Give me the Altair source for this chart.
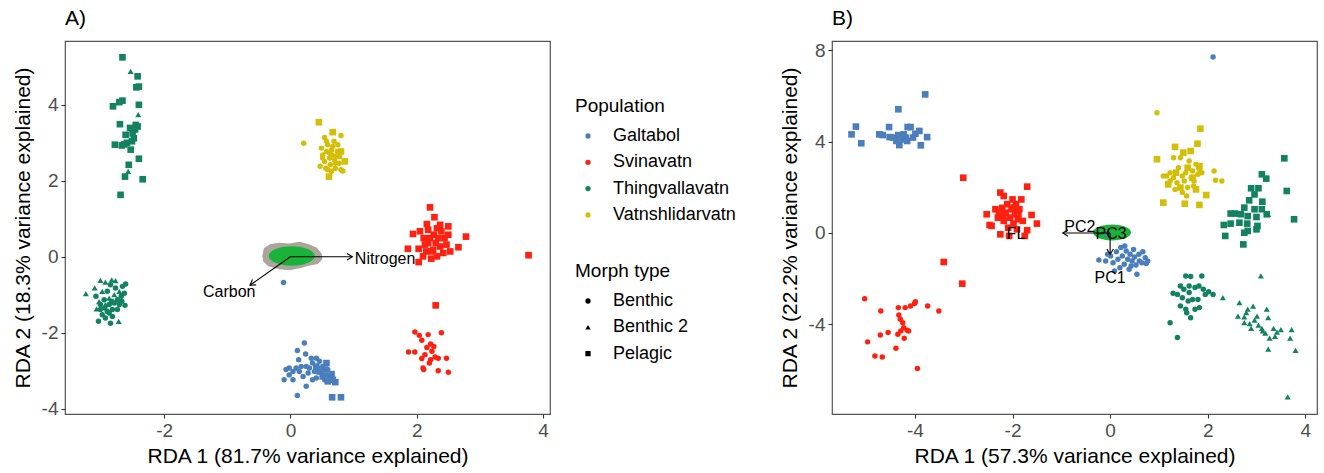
import math
import altair as alt
import pandas as pd

# ---------------- Panel A data (RDA 1 / RDA 2) ----------------
# Thingvallavatn, upper cluster
A_thing_up_sq_x = [-2.66, -2.42, -2.44, -2.40, -2.40, -2.71, -2.66, -2.81, -2.70, -2.54, -2.45, -2.42, -2.61, -2.48,
                   -2.51, -2.78, -2.67, -2.63, -2.53, -2.40, -2.56, -2.62, -2.34, -2.69, -2.46, -2.50, -2.59]
A_thing_up_sq_y = [5.25, 4.75, 4.46, 4.48, 4.00, 4.07, 4.11, 3.96, 3.49, 3.39, 3.47, 3.43, 3.21, 3.12,
                   3.04, 2.95, 2.93, 2.96, 2.82, 2.58, 2.42, 2.11, 2.04, 1.63, 3.35, 3.25, 3.00]
A_thing_up_tri_x = [-2.53, -2.41, -2.57]
A_thing_up_tri_y = [4.88, 3.74, 2.25]
# Thingvallavatn, lower-left cluster
A_thing_lo_tri_x = [-3.24, -3.10, -3.01, -2.93, -2.83, -2.77, -3.03, -2.93, -2.79, -2.72, -3.07, -2.98, -2.87, -2.71]
A_thing_lo_tri_y = [-0.97, -0.82, -0.62, -0.67, -0.61, -0.63, -1.18, -1.26, -1.00, -1.70, -1.37, -0.91, -1.09, -0.91]
A_thing_lo_cir_x = [-3.04, -2.85, -2.98, -2.90, -2.82, -3.01, -2.95, -2.87, -2.79, -2.74, -2.68, -2.63, -2.61, -2.66,
                    -2.71, -2.62, -2.93, -2.82, -3.08, -2.90, -2.77, -2.85, -3.01, -2.87, -2.74, -2.94, -2.83, -2.67]
A_thing_lo_cir_y = [-1.70, -1.75, -1.53, -1.44, -1.39, -1.26, -1.13, -1.26, -1.22, -1.13, -1.04, -0.96, -0.72, -0.78,
                    -1.26, -1.28, -1.61, -1.57, -1.04, -0.91, -0.82, -0.74, -1.39, -1.48, -1.39, -1.35, -1.17, -1.17]
# Vatnshlidarvatn
A_vatn_sq_x = [0.45, 0.67, 0.61, 0.80, 0.86]
A_vatn_sq_y = [3.54, 3.28, 2.11, 2.77, 2.51]
A_vatn_cir_x = [0.21, 0.54, 0.80, 0.49, 0.51, 0.54, 0.57, 0.59, 0.62, 0.63, 0.65, 0.66, 0.69, 0.70, 0.71, 0.74,
                0.75, 0.77, 0.78, 0.80, 0.83, 0.47, 0.56, 0.51, 0.59, 0.65, 0.72, 0.57, 0.67, 0.62, 0.71]
A_vatn_cir_y = [2.99, 3.14, 3.19, 2.86, 2.68, 2.51, 2.77, 2.95, 2.60, 2.42, 2.81, 2.68, 3.04, 2.55, 2.33, 2.77,
                2.95, 2.46, 2.64, 2.29, 2.26, 2.38, 2.33, 2.60, 2.29, 2.25, 2.64, 3.04, 2.90, 2.72, 2.46]
# Svinavatn
A_svin_sq_x = [2.21, 2.28, 1.94, 1.86, 2.03, 2.03, 2.78, 2.66, 2.53, 2.50, 2.16, 2.05, 2.11, 2.13, 2.18, 2.21,
               2.23, 2.23, 2.27, 2.30, 2.32, 2.34, 2.37, 2.39, 2.42, 2.44, 2.47, 2.50, 2.15, 2.10, 2.37, 2.26,
               2.18, 2.32, 3.77, 2.30]
A_svin_sq_y = [1.30, 1.04, 0.60, 0.21, 0.21, -0.14, 0.53, 0.25, 0.14, 0.80, 0.86, 0.67, 0.49, 0.32, 0.71, 0.49,
               0.14, -0.05, 0.58, 0.36, 0.75, 0.49, 0.27, 0.67, 0.10, 0.49, 0.32, 0.58, 0.14, 0.01, 0.84, 0.18,
               0.36, 0.01, 0.04, -1.28]
A_svin_cir_x = [1.97, 2.04, 2.18, 2.39, 2.08, 2.22, 2.16, 1.87, 1.97, 2.24, 2.13, 2.29, 2.08, 2.22, 2.34, 2.47,
                2.11, 2.34, 2.50, 2.20, 2.10, 2.27]
A_svin_cir_y = [-1.98, -2.07, -2.05, -2.00, -2.20, -2.30, -2.39, -2.51, -2.51, -2.49, -2.58, -2.64, -2.68, -2.71,
                -2.67, -2.67, -2.97, -3.00, -3.04, -2.80, -2.93, -2.36]
# Galtabol
A_galt_cir_x = [0.22, 0.11, 0.24, 0.13, 0.33, -0.07, -0.02, 0.04, 0.09, 0.14, 0.20, 0.25, 0.28, 0.35, 0.38, 0.41,
                0.43, 0.46, 0.49, 0.51, 0.54, 0.57, 0.59, 0.25, 0.11, -0.10, 0.04, 0.17, 0.30, 0.35, -0.02, 0.41,
                -0.11]
A_galt_cir_y = [-2.27, -2.47, -2.56, -2.71, -2.67, -2.97, -3.11, -3.24, -2.93, -3.02, -3.15, -2.89, -3.06, -2.80,
                -3.02, -3.19, -2.93, -2.75, -3.06, -2.89, -3.24, -3.11, -2.97, -3.41, -3.65, -3.24, -3.02, -2.89,
                -2.93, -3.24, -2.93, -2.67, -0.68]
A_galt_sq_x = [0.46, 0.51, 0.57, 0.62, 0.67, 0.71, 0.59, 0.65, 0.41, 0.54, 0.66, 0.80]
A_galt_sq_y = [-3.02, -3.15, -2.80, -3.19, -3.24, -3.30, -3.28, -3.09, -2.89, -2.97, -3.70, -3.70]

# ---------------- Panel B data ----------------
B_galt_sq_x = [-5.30, -5.21, -5.10, -4.73, -4.53, -4.52, -4.34, -4.34, -4.38, -4.32, -4.25, -4.19, -4.16, -4.15,
               -4.09, -4.04, -3.99, -3.91, -3.88, -3.75, -3.79, -4.45, -4.23, -4.66]
B_galt_sq_y = [4.32, 4.66, 3.93, 4.32, 4.64, 4.20, 5.42, 4.29, 4.03, 3.85, 4.10, 4.18, 4.03, 4.64,
               4.64, 4.18, 4.35, 4.47, 3.84, 4.20, 6.07, 4.18, 4.32, 4.29]
B_galt_cir_x = [-0.23, -0.09, 0.01, 0.06, 0.13, 0.16, 0.22, 0.25, 0.29, 0.33, 0.36, 0.39, 0.41, 0.45, 0.48, 0.50,
                0.53, 0.55, 0.59, 0.60, 0.65, 0.67, 0.72, 0.74, 0.77, 0.09, 0.20, -0.05, 0.30, 0.43, -0.06, 2.11]
B_galt_cir_y = [-1.18, -1.23, -1.01, -1.30, -0.82, -1.15, -0.64, -1.01, -1.37, -0.79, -1.15, -1.59, -0.93, -1.23,
                -0.72, -1.05, -1.40, -1.81, -0.93, -1.23, -1.30, -0.82, -1.08, -1.34, -1.23, -1.66, -1.52, -0.93,
                -0.57, -1.45, -0.06, 7.71]
B_svin_sq_x = [-3.01, -1.70, -2.25, -2.18, -2.53, -2.47, -2.43, -2.35, -2.30, -2.25, -2.21, -2.18, -2.14, -2.11,
               -2.09, -2.05, -2.02, -2.00, -1.98, -1.95, -1.93, -1.91, -1.89, -1.86, -1.82, -1.79, -1.75, -1.70,
               -1.61, -1.50, -2.07, -2.19, -2.28, -1.98, -1.88, -3.41, -3.03]
B_svin_sq_y = [2.42, 2.03, 1.77, 1.62, 0.82, 0.35, 0.31, 1.04, 0.67, -0.06, 1.10, 0.53, 0.89, 1.26,
               0.23, 0.67, 1.04, 1.47, 0.41, 0.82, 1.26, 0.16, 0.60, 1.04, 1.47, 0.53, -0.13, 0.12,
               0.79, 0.41, -0.13, 0.79, 0.89, 1.11, 0.82, -1.27, -2.22]
B_svin_cir_x = [-5.03, -4.97, -4.82, -4.67, -4.70, -4.71, -4.55, -4.39, -4.34, -4.33, -4.35, -4.29, -4.25, -4.23,
                -4.22, -4.20, -4.16, -4.13, -4.09, -4.01, -3.99, -3.95, -3.74, -3.51, -4.30]
B_svin_cir_y = [-2.88, -4.77, -5.39, -5.43, -3.42, -4.47, -4.36, -5.05, -3.27, -3.59, -4.44, -4.29, -3.93, -4.15,
                -4.61, -3.27, -4.26, -4.29, -3.20, -3.09, -3.01, -5.94, -3.20, -3.42, -3.78]
B_vatn_sq_x = [1.85, 1.79, 0.96, 1.33, 1.50, 1.65, 1.09, 1.53, 1.83, 1.97, 1.76, 1.44, 1.19, 1.35, 1.59, 1.83, 1.69]
B_vatn_sq_y = [4.57, 3.91, 3.23, 3.77, 3.52, 3.59, 1.33, 1.28, 1.23, 1.66, 1.91, 1.99, 2.13, 2.64, 2.86, 2.93, 2.42]
B_vatn_cir_x = [0.96, 2.13, 2.16, 2.29, 1.09, 1.23, 1.30, 1.37, 1.40, 1.44, 1.48, 1.52, 1.55, 1.59, 1.62, 1.66,
                1.69, 1.72, 1.76, 1.80, 1.83, 1.33, 1.23, 1.16, 1.57, 1.71, 1.48, 1.30, 1.88]
B_vatn_cir_y = [5.27, 2.72, 2.31, 2.28, 2.50, 2.64, 2.42, 2.20, 2.86, 3.30, 2.50, 2.28, 2.64, 1.99, 3.15, 2.42,
                2.72, 2.28, 3.01, 2.57, 2.79, 1.91, 2.28, 2.50, 1.62, 2.06, 1.77, 3.30, 2.64]
B_thing_sq_x = [3.57, 3.11, 3.20, 3.62, 3.77, 2.89, 3.04, 2.96, 2.85, 3.12, 2.75, 2.96, 3.11, 2.47, 2.56, 2.68,
                2.82, 3.00, 3.21, 2.65, 2.81, 3.02, 2.33, 2.47, 2.36, 2.75, 2.82, 3.00, 2.73]
B_thing_sq_y = [3.27, 2.57, 2.38, 1.84, 0.60, 1.96, 1.96, 1.69, 1.43, 1.37, 1.11, 1.04, 1.04, 0.85, 0.85, 0.82,
                0.74, 0.70, 0.82, 0.45, 0.41, 0.31, 0.35, 0.41, -0.13, 0.01, 0.09, 0.16, -0.50]
B_thing_cir_x = [1.23, 1.38, 1.29, 1.38, 1.55, 1.65, 1.88, 1.44, 1.51, 1.62, 1.74, 1.82, 1.91, 2.02, 2.11, 1.48,
                 1.60, 1.69, 1.80, 1.44, 1.55, 1.65, 1.83, 1.74, 1.57, 1.95, 1.62]
B_thing_cir_y = [-3.93, -4.58, -2.64, -2.69, -1.88, -1.91, -1.88, -2.32, -2.47, -2.32, -2.39, -2.32, -2.47, -2.57,
                 -2.69, -2.84, -2.98, -2.91, -2.91, -3.20, -3.34, -3.71, -3.27, -3.34, -3.49, -2.69, -2.61]
B_thing_tri_x = [3.24, 2.31, 3.09, 2.65, 2.62, 2.75, 2.82, 2.93, 2.79, 2.86, 2.96, 2.89, 2.75, 3.04, 3.11, 3.21,
                 3.24, 3.18, 3.13, 3.27, 3.35, 3.38, 3.42, 3.50, 3.24, 3.72, 3.69, 3.80, 3.64, 3.01]
B_thing_tri_y = [0.82, -2.83, -1.88, -3.05, -3.64, -3.68, -3.34, -3.20, -3.49, -3.97, -3.82, -4.18, -3.93, -4.04,
                 -4.18, -3.34, -3.71, -4.39, -4.29, -4.61, -4.18, -4.53, -4.34, -4.23, -5.09, -4.23, -4.61, -5.14,
                 -7.18, -3.64]

# Vector (biplot arrow) data
A_arrow_label = ["Nitrogen", "Carbon"]
A_arrow_x = [0.98, -0.64]
A_arrow_y = [0.0, -0.75]
A_label_x = [1.02, -0.97]
A_label_y = [-0.06, -0.93]
B_arrow_label = ["PC2", "PC1"]
B_arrow_x = [-0.97, 0.0]
B_arrow_y = [0.0, -0.93]
B_text = ["PC2", "PC3", "FL", "PC1"]
B_text_x = [-0.62, 0.02, -1.93, 0.0]
B_text_y = [0.28, -0.03, -0.06, -1.99]

# Central loading clouds (centre, pixel width)
A_cloud_x = [0.03, 0.02]
A_cloud_y = [0.0, 0.02]
A_cloud_color = ["#ABA59C", "#19B33A"]
A_cloud_w = [60, 46]
B_cloud_x = [0.04]
B_cloud_y = [0.02]
B_cloud_w = [38]

POP = ["Galtabol", "Svinavatn", "Thingvallavatn", "Vatnshlidarvatn"]
POP_COL = ["#4A7EBD", "#FF2010", "#128260", "#D4BE08"]
MORPH = ["Benthic", "Benthic 2", "Pelagic"]
MORPH_SHAPE = ["circle", "triangle-up", "square"]
MORPH_SIZE = [30, 44, 30]


def frame(groups):
    rows = []
    for xs, ys, pop, morph in groups:
        for x, y in zip(xs, ys):
            rows.append({"x": x, "y": y, "pop": pop, "morph": morph})
    return pd.DataFrame(rows)


dfA = frame([
    (A_thing_up_sq_x, A_thing_up_sq_y, "Thingvallavatn", "Pelagic"),
    (A_thing_up_tri_x, A_thing_up_tri_y, "Thingvallavatn", "Benthic 2"),
    (A_thing_lo_tri_x, A_thing_lo_tri_y, "Thingvallavatn", "Benthic 2"),
    (A_thing_lo_cir_x, A_thing_lo_cir_y, "Thingvallavatn", "Benthic"),
    (A_vatn_sq_x, A_vatn_sq_y, "Vatnshlidarvatn", "Pelagic"),
    (A_vatn_cir_x, A_vatn_cir_y, "Vatnshlidarvatn", "Benthic"),
    (A_svin_sq_x, A_svin_sq_y, "Svinavatn", "Pelagic"),
    (A_svin_cir_x, A_svin_cir_y, "Svinavatn", "Benthic"),
    (A_galt_cir_x, A_galt_cir_y, "Galtabol", "Benthic"),
    (A_galt_sq_x, A_galt_sq_y, "Galtabol", "Pelagic"),
])
dfB = frame([
    (B_galt_sq_x, B_galt_sq_y, "Galtabol", "Pelagic"),
    (B_galt_cir_x, B_galt_cir_y, "Galtabol", "Benthic"),
    (B_svin_sq_x, B_svin_sq_y, "Svinavatn", "Pelagic"),
    (B_svin_cir_x, B_svin_cir_y, "Svinavatn", "Benthic"),
    (B_vatn_sq_x, B_vatn_sq_y, "Vatnshlidarvatn", "Pelagic"),
    (B_vatn_cir_x, B_vatn_cir_y, "Vatnshlidarvatn", "Benthic"),
    (B_thing_sq_x, B_thing_sq_y, "Thingvallavatn", "Pelagic"),
    (B_thing_cir_x, B_thing_cir_y, "Thingvallavatn", "Benthic"),
    (B_thing_tri_x, B_thing_tri_y, "Thingvallavatn", "Benthic 2"),
])

W, H = 485, 373
A_XD, A_YD = [-3.57, 4.11], [-4.14, 5.68]
B_XD, B_YD = [-5.70, 4.24], [-7.93, 8.41]

ELLIPSE = "M -1 0 A 1 0.42 0 1 0 1 0 A 1 0.42 0 1 0 -1 0 Z"
BLOB = ("M -1 -0.02 L -0.95 -0.28 L -0.75 -0.42 L -0.45 -0.47 L -0.1 -0.44 L 0.25 -0.5 L 0.55 -0.42 "
        "L 0.82 -0.3 L 0.98 -0.1 L 1 0.08 L 0.85 0.24 L 0.55 0.3 L 0.25 0.38 L -0.1 0.45 L -0.45 0.42 "
        "L -0.8 0.32 L -0.97 0.16 Z")
CHEVRON = "M -1 -0.62 L 0 0 L -1 0.62"

TICK_FONT = 19
TITLE_FONT = 21
LABEL_EXPR = "'' + datum.value"


def axes(xd, yd, xt, yt, xtitle, ytitle):
    xs = alt.Scale(domain=xd, nice=False, zero=False)
    ys = alt.Scale(domain=yd, nice=False, zero=False)
    common = dict(grid=False, domain=False, tickColor="#333333", tickSize=4, tickWidth=1.1,
                  labelColor="#4D4D4D", labelFontSize=TICK_FONT, titleFontSize=TITLE_FONT,
                  titleFontWeight="normal", titleColor="black", labelPadding=3, labelExpr=LABEL_EXPR)
    xa = alt.Axis(values=xt, title=xtitle, titlePadding=5, **common)
    ya = alt.Axis(values=yt, title=ytitle, titlePadding=8, **common)
    return xs, ys, xa, ya


def arrow_angles(ax, ay, xd, yd):
    kx = W / (xd[1] - xd[0])
    ky = H / (yd[1] - yd[0])
    out = []
    for x, y in zip(ax, ay):
        a = math.degrees(math.atan2(-y * ky, x * kx)) % 360
        out.append(a)
    return out


def panel(df, xd, yd, xt, yt, xtitle, ytitle, clouds, cloud_shapes, arrows, texts_left, texts_center,
          tag, legend):
    xs, ys, xa, ya = axes(xd, yd, xt, yt, xtitle, ytitle)
    X = lambda f="x": alt.X(f"{f}:Q", scale=xs, axis=xa)
    Y = lambda f="y": alt.Y(f"{f}:Q", scale=ys, axis=ya)

    cdf = pd.DataFrame(clouds)
    cloud_layers = []
    for i, shp in enumerate(cloud_shapes):
        cloud_layers.append(
            alt.Chart(cdf.iloc[[i]]).mark_point(shape=shp, filled=True, opacity=1, strokeWidth=0).encode(
                x=X(), y=Y(),
                color=alt.Color("col:N", scale=None),
                size=alt.Size("s:Q", scale=None),
            ))

    if legend:
        common = dict(symbolSize=28, symbolStrokeWidth=0, titleFontSize=19, titleFontWeight="normal",
                      labelFontSize=18, rowPadding=8.3, titlePadding=11, labelOffset=16, symbolOffset=4,
                      titleColor="black", labelColor="black")
        cleg = alt.Legend(title="Population", orient="none", legendX=W + 25, legendY=56, symbolType="circle",
                          **common)
        sleg = alt.Legend(title="Morph type", orient="none", legendX=W + 25, legendY=221,
                          symbolFillColor="black", symbolStrokeColor="black", **common)
    else:
        cleg = None
        sleg = None

    pts = alt.Chart(df).mark_point(filled=True, opacity=1, strokeWidth=0).encode(
        x=X(), y=Y(),
        color=alt.Color("pop:N", scale=alt.Scale(domain=POP, range=POP_COL), legend=cleg),
        shape=alt.Shape("morph:N", scale=alt.Scale(domain=MORPH, range=MORPH_SHAPE), legend=sleg),
        size=alt.Size("morph:N", scale=alt.Scale(domain=MORPH, range=MORPH_SIZE), legend=None),
    )

    adf = pd.DataFrame(arrows)
    rules = alt.Chart(adf).mark_rule(color="black", strokeWidth=1.1).encode(
        x=X("x0"), y=Y("y0"), x2="x", y2="y")
    heads = alt.Chart(adf).mark_point(shape=CHEVRON, filled=False, color="black", strokeWidth=1.1, size=110,
                                      opacity=1).encode(
        x=X(), y=Y(), angle=alt.Angle("ang:Q", scale=None))

    layers = cloud_layers + [pts, rules, heads]
    if texts_left:
        layers.append(alt.Chart(pd.DataFrame(texts_left)).mark_text(align="left", baseline="middle", fontSize=16,
                                                                    color="black").encode(
            x=X(), y=Y(), text="t:N"))
    if texts_center:
        layers.append(alt.Chart(pd.DataFrame(texts_center)).mark_text(align="center", baseline="middle",
                                                                      fontSize=16, color="black").encode(
            x=X(), y=Y(), text="t:N"))

    return alt.layer(*layers).resolve_scale(size="independent").properties(
        width=W, height=H,
        title=alt.TitleParams(tag, anchor="start", frame="group", fontSize=21, fontWeight="normal",
                              offset=12, color="black"),
    )


# panel A pieces
A_clouds = {"x": A_cloud_x, "y": A_cloud_y, "col": A_cloud_color, "s": [w * w for w in A_cloud_w]}
A_arrows = {"x0": [0.0] * len(A_arrow_x), "y0": [0.0] * len(A_arrow_y), "x": A_arrow_x, "y": A_arrow_y,
            "ang": arrow_angles(A_arrow_x, A_arrow_y, A_XD, A_YD)}
A_tl = {"x": A_label_x[:1], "y": A_label_y[:1], "t": A_arrow_label[:1]}
A_tc = {"x": A_label_x[1:], "y": A_label_y[1:], "t": A_arrow_label[1:]}

B_clouds = {"x": B_cloud_x, "y": B_cloud_y, "col": ["#19B33A"], "s": [w * w for w in B_cloud_w]}
B_arrows = {"x0": [0.0] * len(B_arrow_x), "y0": [0.0] * len(B_arrow_y), "x": B_arrow_x, "y": B_arrow_y,
            "ang": arrow_angles(B_arrow_x, B_arrow_y, B_XD, B_YD)}
B_tc = {"x": B_text_x, "y": B_text_y, "t": B_text}

pA = panel(dfA, A_XD, A_YD, [-2, 0, 2, 4], [-4, -2, 0, 2, 4],
           "RDA 1 (81.7% variance explained)", "RDA 2 (18.3% variance explained)",
           A_clouds, [BLOB, ELLIPSE], A_arrows, A_tl, A_tc, "A)", True)
pB = panel(dfB, B_XD, B_YD, [-4, -2, 0, 2, 4], [-4, 0, 4, 8],
           "RDA 1 (57.3% variance explained)", "RDA 2 (22.2% variance explained)",
           B_clouds, [ELLIPSE], B_arrows, None, B_tc, "B)", False)

chart = alt.hconcat(pA, pB, spacing=41).resolve_scale(
    color="independent", shape="independent", x="independent", y="independent", size="independent"
).resolve_legend(color="independent", shape="independent").configure(
    font="Liberation Sans",
    padding={"left": 11, "top": 7, "right": 5, "bottom": 5},
    background="white",
).configure_view(stroke="#555555", strokeWidth=1.2)

chart.save("out.html", embed_options={"renderer": "svg", "actions": False})
